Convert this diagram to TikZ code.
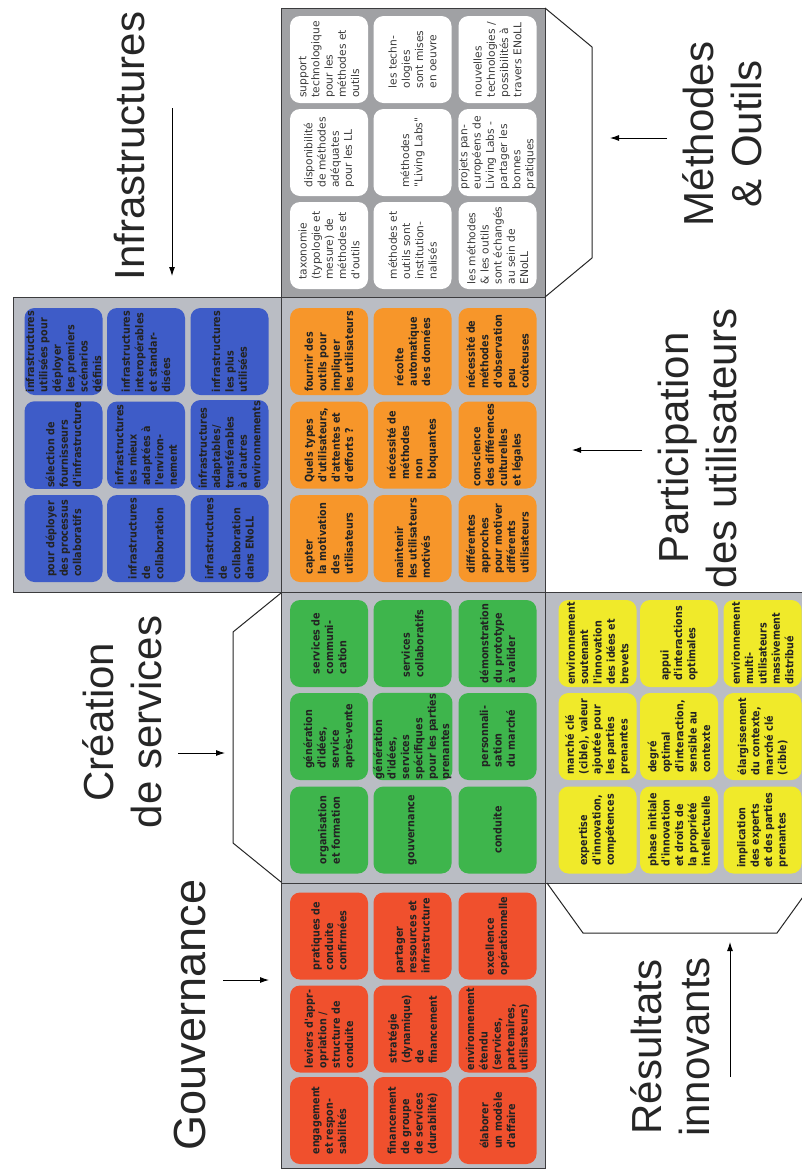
\documentclass[tikz,border=0pt]{standalone}
\usepackage{fontspec}
\setmainfont{Liberation Sans}
\newfontfamily\boxfont[FakeStretch=0.88]{DejaVu Sans Bold}
\newfontfamily\boxfontw{DejaVu Sans}
\usetikzlibrary{arrows.meta}
\definecolor{redc}{RGB}{240,80,45}
\definecolor{greenc}{RGB}{62,181,76}
\definecolor{orangec}{RGB}{247,150,42}
\definecolor{yellowc}{RGB}{240,234,42}
\definecolor{bluec}{RGB}{62,92,200}
\definecolor{panelgray}{RGB}{186,189,196}
\definecolor{panelgrayd}{RGB}{160,161,164}
\definecolor{panelline}{RGB}{60,60,62}
\definecolor{boxtext}{RGB}{35,35,35}
\definecolor{boxtextw}{RGB}{60,60,60}
\begin{document}
\begin{tikzpicture}[x=1pt,y=-1pt,
  panel/.style={draw=panelline, line width=1pt, fill=panelgray},
  cell/.style={rounded corners=10pt, rotate=90, minimum width=87pt, minimum height=78pt,
     inner sep=1pt, align=left, text=boxtext, font=\boxfont\fontsize{10.9}{13.4}\selectfont},
  wcell/.style={cell, fill=white, text=boxtextw, font=\boxfontw\fontsize{10.7}{13.2}\selectfont},
  title/.style={rotate=90, align=center, font=\fontsize{42}{48}\selectfont, text=black!85},
  arr/.style={-{Latex[length=9pt,width=6pt]}, line width=0.9pt},
  flap/.style={draw=black!85, line width=1pt}]
\useasboundingbox (0,0) rectangle (802,1171);
\path[clip] (0,0) rectangle (802,1171);
\fill[white] (0,0) rectangle (802,1171);

% panels
\path[panel, fill=panelgrayd] (281,8) rectangle (545,297);
\path[panel] (281,297) rectangle (545,592);
\path[panel] (281,592) rectangle (545,883);
\path[panel] (281,883) rectangle (545,1168);
\path[panel] (13,297) rectangle (281,592);
\path[panel] (545,592) rectangle (812,883);

% flaps
\draw[flap] (545,8) -- (592,47) -- (592,258) -- (545,297);
\draw[flap] (281,593) -- (233,632) -- (233,843) -- (281,882);
\draw[flap] (547,883) -- (583,933) -- (777,933) -- (813,883);

% Méthodes & Outils (white)
\node[wcell] (mo11) at (329,59.5) {support\\technologique\\pour les\\méthodes et\\outils};
\node[wcell] (mo12) at (329,152.5) {disponibilité\\de méthodes\\adéquates\\pour les LL};
\node[wcell] (mo13) at (329,245.5) {taxonomie\\(typologie et\\mesure) de\\méthodes et\\d'outils};
\node[wcell] (mo21) at (412.5,59.5) {les techn-\\ologies\\sont mises\\en oeuvre};
\node[wcell] (mo22) at (412.5,152.5) {méthodes\\"Living Labs"};
\node[wcell] (mo23) at (412.5,245.5) {méthodes et\\outils sont\\institution-\\nalisés};
\node[wcell] (mo31) at (497.5,59.5) {nouvelles\\technologies /\\possibilités à\\travers ENoLL};
\node[wcell] (mo32) at (497.5,152.5) {projets pan-\\européens de\\Living Labs -\\partager les\\bonnes\\pratiques};
\node[wcell] (mo33) at (497.5,245.5) {les méthodes\\\& les outils\\sont échangés\\au sein de\\ENoLL};

% Participation des utilisateurs (orange)
\node[cell,fill=orangec] (pu11) at (329,351.5) {fournir des\\outils pour\\impliquer\\les utilisateurs};
\node[cell,fill=orangec] (pu12) at (329,445) {Quels types\\d'utilisateurs,\\d'attentes et\\d'efforts ?};
\node[cell,fill=orangec] (pu13) at (329,538.5) {capter\\la motivation\\des\\utilisateurs};
\node[cell,fill=orangec] (pu21) at (412.5,351.5) {récolte\\automatique\\des données};
\node[cell,fill=orangec] (pu22) at (412.5,445) {nécessité de\\méthodes\\non\\bloquantes};
\node[cell,fill=orangec] (pu23) at (412.5,538.5) {maintenir\\les utilisateurs\\motivés};
\node[cell,fill=orangec] (pu31) at (497.5,351.5) {nécessité de\\méthodes\\d'observation\\peu\\coûteuses};
\node[cell,fill=orangec] (pu32) at (497.5,445) {conscience\\des différences\\culturelles\\et légales};
\node[cell,fill=orangec] (pu33) at (497.5,538.5) {différentes\\approches\\pour motiver\\différents\\utilisateurs};

% Création de services (green)
\node[cell,fill=greenc] (cr11) at (329,643.5) {services de\\communi-\\cation};
\node[cell,fill=greenc] (cr12) at (329,736.5) {génération\\d'idées,\\service\\après-vente};
\node[cell,fill=greenc] (cr13) at (329,830) {organisation\\et formation};
\node[cell,fill=greenc] (cr21) at (412.5,643.5) {services\\collaboratifs};
\node[cell,fill=greenc] (cr22) at (412.5,736.5) {génération\\d'idées,\\services\\spécifiques\\pour les parties\\prenantes};
\node[cell,fill=greenc] (cr23) at (412.5,830) {gouvernance};
\node[cell,fill=greenc] (cr31) at (497.5,643.5) {démonstration\\du prototype\\à valider};
\node[cell,fill=greenc] (cr32) at (497.5,736.5) {personnali-\\sation\\du marché};
\node[cell,fill=greenc] (cr33) at (497.5,830) {conduite};

% Gouvernance (red)
\node[cell,fill=redc] (gv11) at (329,936) {pratiques de\\conduite\\confirmées};
\node[cell,fill=redc] (gv12) at (329,1029) {leviers d'appr-\\opriation /\\structure de\\conduite};
\node[cell,fill=redc] (gv13) at (329,1120.5) {engagement\\et respon-\\sabilités};
\node[cell,fill=redc] (gv21) at (412.5,936) {partager\\ressources et\\infrastructure};
\node[cell,fill=redc] (gv22) at (412.5,1029) {stratégie\\(dynamique)\\de\\financement};
\node[cell,fill=redc] (gv23) at (412.5,1120.5) {financement\\de groupe\\de services\\(durabilité)};
\node[cell,fill=redc] (gv31) at (497.5,936) {excellence\\opérationnelle};
\node[cell,fill=redc] (gv32) at (497.5,1029) {environnement\\étendu\\(services,\\partenaires,\\utilisateurs)};
\node[cell,fill=redc] (gv33) at (497.5,1120.5) {élaborer\\un modèle\\d'affaire};

% Infrastructures (blue)
\node[cell,fill=bluec] (in11) at (63.5,351.5) {infrastructures\\utilisées pour\\déployer\\les premiers\\scénarios\\définis};
\node[cell,fill=bluec] (in12) at (63.5,445) {sélection de\\fournisseurs\\d'infrastructure};
\node[cell,fill=bluec] (in13) at (63.5,538.5) {pour déployer\\des processus\\collaboratifs};
\node[cell,fill=bluec] (in21) at (146,351.5) {infrastructures\\interopérables\\et standar-\\disées};
\node[cell,fill=bluec] (in22) at (146,445) {infrastructures\\les mieux\\adaptées à\\l'environ-\\nement};
\node[cell,fill=bluec] (in23) at (146,538.5) {infrastructures\\de\\collaboration};
\node[cell,fill=bluec] (in31) at (229.5,351.5) {infrastructures\\les plus\\utilisées};
\node[cell,fill=bluec] (in32) at (229.5,445) {infrastructures\\adaptables/\\transférables\\à d'autres\\environnements};
\node[cell,fill=bluec] (in33) at (229.5,538.5) {infrastructures\\de\\collaboration\\dans ENoLL};

% Résultats innovants (yellow)
\node[cell,fill=yellowc] (ri11) at (597.5,643.5) {environnement\\soutenant\\l'innovation\\des idées et\\brevets};
\node[cell,fill=yellowc] (ri12) at (597.5,736.5) {marché clé\\(cible), valeur\\ajoutée pour\\les parties\\prenantes};
\node[cell,fill=yellowc] (ri13) at (597.5,830) {expertise\\d'innovation,\\compétences};
\node[cell,fill=yellowc] (ri21) at (679,643.5) {appui\\d'interactions\\optimales};
\node[cell,fill=yellowc] (ri22) at (679,736.5) {degré\\optimal\\d'interaction,\\sensible au\\contexte};
\node[cell,fill=yellowc] (ri23) at (679,830) {phase initiale\\d'innovation\\et droits de\\la propriété\\intellectuelle};
\node[cell,fill=yellowc] (ri31) at (762.5,643.5) {environnement\\multi-\\utilisateurs\\massivement\\distribué};
\node[cell,fill=yellowc] (ri32) at (762.5,736.5) {élargissement\\du contexte,\\marché clé\\(cible)};
\node[cell,fill=yellowc] (ri33) at (762.5,830) {implication\\des experts\\et des parties\\prenantes};

% titles
\node[title] (tInf) at (130,146) {Infrastructures};
\node[title] (tMO) at (722,134) {Méthodes\\\& Outils};
\node[title] (tPU) at (697,448) {Participation\\des utilisateurs};
\node[title] (tCS) at (122,722) {Création\\de services};
\node[title, font=\fontsize{45}{50}\selectfont] (tGV) at (190,1015) {Gouvernance};
\node[title] (tRI) at (670,1047) {Résultats\\innovants};

% arrows
\coordinate (aInfS) at (172,108); \coordinate (aInfE) at (172,276);
\coordinate (aMOS) at (667,138);  \coordinate (aMOE) at (610,138);
\coordinate (aPUS) at (642,450);  \coordinate (aPUE) at (572,450);
\coordinate (aCSS) at (178,753);  \coordinate (aCSE) at (225,753);
\coordinate (aGVS) at (223,980);  \coordinate (aGVE) at (269,980);
\coordinate (aRIS) at (730,1077); \coordinate (aRIE) at (730,942);
\draw[arr] (aInfS) -- (aInfE);
\draw[arr] (aMOS) -- (aMOE);
\draw[arr] (aPUS) -- (aPUE);
\draw[arr] (aCSS) -- (aCSE);
\draw[arr] (aGVS) -- (aGVE);
\draw[arr] (aRIS) -- (aRIE);
\end{tikzpicture}
\end{document}
